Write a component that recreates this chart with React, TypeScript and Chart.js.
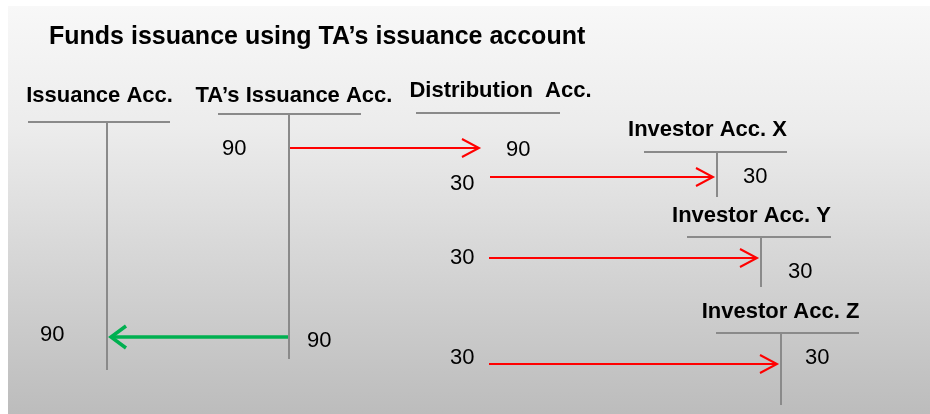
import React, { useEffect, useRef } from "react";
import { Chart, registerables } from "chart.js";

Chart.register(...registerables);

// ---- content ----
const title = "Funds issuance using TA’s issuance account";
const accountNames = [
  "Issuance Acc.",
  "TA’s Issuance Acc.",
  "Distribution  Acc.",
  "Investor Acc. X",
  "Investor Acc. Y",
  "Investor Acc. Z",
];
// entry amounts shown in the T-accounts
const entryValues = [90, 90, 30, 30, 30, 30, 30, 30, 90, 90];
// transfer amounts (arrows)
const redTransferValues = [90, 30, 30, 30];
const greenTransferValues = [90];

// ---- layout (diagram coordinates = pixels) ----
const labelCenterX = [99.5, 294, 500.5, 707.5, 751.5, 780.5];
const labelBaseline = [102, 102, 97, 136, 222, 318];
const barY = [122, 114, 113, 152, 237, 333];
const barX1 = [28, 218, 416, 644, 687, 716];
const barX2 = [170, 361, 560, 787, 831, 859];
const stemX = [107, 289, null, 717, 761, 781];
const stemBottom = [370, 359, null, 197, 287, 405];

const entryX = [222, 506, 450, 743, 450, 788, 450, 805, 40, 307];
const entryBaseline = [155, 156, 190, 183, 264, 278, 364, 364, 341, 347];

const redFromX = [290, 490, 489, 489];
const redToX = [479, 713, 757, 777];
const redY = [148, 177, 258, 364];
const greenFromX = [289];
const greenToX = [111];
const greenY = [337];

const GRAY = "#8a8a8a";
const RED = "#ff0000";
const GREEN = "#00b050";
const FONT = "'Liberation Sans', Arial, sans-serif";

function seg(points: { x: number; y: number }[], color: string, width: number) {
  return {
    data: points,
    showLine: true,
    borderColor: color,
    backgroundColor: color,
    borderWidth: width,
    pointRadius: 0,
    fill: false,
    tension: 0,
    borderCapStyle: "butt" as const,
    borderJoinStyle: "miter" as const,
  };
}

function arrowDatasets(fromX: number, toX: number, y: number, color: string, width: number, head: number, spread: number) {
  const dir = toX > fromX ? 1 : -1;
  return [
    seg([{ x: fromX, y }, { x: toX, y }], color, width),
    seg(
      [
        { x: toX - dir * head, y: y - spread },
        { x: toX, y },
        { x: toX - dir * head, y: y + spread },
      ],
      color,
      width
    ),
  ];
}

export default function App() {
  const ref = useRef<HTMLCanvasElement | null>(null);

  useEffect(() => {
    if (!ref.current) return;
    const datasets: any[] = [];
    accountNames.forEach((_, i) => {
      datasets.push(seg([{ x: barX1[i], y: barY[i] }, { x: barX2[i], y: barY[i] }], GRAY, 2));
      if (stemX[i] !== null) {
        datasets.push(seg([{ x: stemX[i] as number, y: barY[i] }, { x: stemX[i] as number, y: stemBottom[i] as number }], GRAY, 2));
      }
    });
    redTransferValues.forEach((_, i) => {
      datasets.push(...arrowDatasets(redFromX[i], redToX[i], redY[i], RED, 2, 17, 9));
    });
    greenTransferValues.forEach((_, i) => {
      datasets.push(...arrowDatasets(greenFromX[i], greenToX[i], greenY[i], GREEN, 3.5, 15, 11));
    });

    const bgPlugin = {
      id: "bg",
      beforeDraw(chart: any) {
        const { ctx, width, height } = chart;
        ctx.save();
        ctx.fillStyle = "#ffffff";
        ctx.fillRect(0, 0, width, height);
        const g = ctx.createLinearGradient(0, 6, 0, height);
        g.addColorStop(0, "#f8f8f8");
        g.addColorStop(0.3, "#ececec");
        g.addColorStop(1, "#bcbcbc");
        ctx.fillStyle = g;
        ctx.fillRect(8, 6, width - 8, height - 6);
        ctx.restore();
      },
    };

    const textPlugin = {
      id: "texts",
      afterDatasetsDraw(chart: any) {
        const { ctx } = chart;
        const xs = chart.scales.x;
        const ys = chart.scales.y;
        ctx.save();
        ctx.fillStyle = "#000000";
        ctx.textBaseline = "alphabetic";
        ctx.font = `bold 25px ${FONT}`;
        ctx.textAlign = "left";
        ctx.fillText(title, xs.getPixelForValue(49), ys.getPixelForValue(44));
        ctx.font = `bold 22px ${FONT}`;
        ctx.textAlign = "center";
        accountNames.forEach((name, i) => {
          ctx.fillText(name, xs.getPixelForValue(labelCenterX[i]), ys.getPixelForValue(labelBaseline[i]));
        });
        ctx.font = `22px ${FONT}`;
        ctx.textAlign = "left";
        entryValues.forEach((v, i) => {
          ctx.fillText(String(v), xs.getPixelForValue(entryX[i]), ys.getPixelForValue(entryBaseline[i]));
        });
        ctx.restore();
      },
    };

    const chart = new Chart(ref.current, {
      type: "scatter",
      data: { datasets },
      options: {
        animation: false,
        responsive: false,
        maintainAspectRatio: false,
        layout: { padding: 0 },
        plugins: { legend: { display: false }, tooltip: { enabled: false }, title: { display: false } },
        scales: {
          x: { type: "linear", min: 0, max: 930, display: false },
          y: { type: "linear", min: 0, max: 414, reverse: true, display: false },
        },
      },
      plugins: [bgPlugin, textPlugin],
    });
    return () => chart.destroy();
  }, []);

  return (
    <div style={{ position: "fixed", left: 0, top: 0, width: 930, height: 414 }}>
      <canvas ref={ref} width={930} height={414} style={{ display: "block", width: 930, height: 414 }} />
    </div>
  );
}
